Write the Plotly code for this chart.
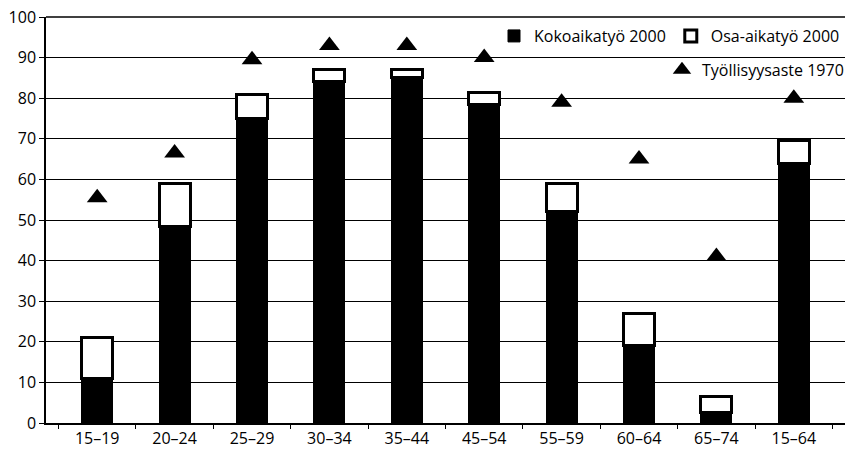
import plotly.graph_objects as go

categories = ["15–19", "20–24", "25–29", "30–34", "35–44", "45–54", "55–59", "60–64", "65–74", "15–64"]
kokoaika_2000 = [11, 48.5, 75, 84, 85, 78.5, 52, 19, 2.5, 64]
osa_aika_2000 = [10, 10.5, 6, 3, 2, 3, 7, 8, 4, 5.5]
tyollisyys_1970 = [55.5, 66.5, 89.5, 93, 93, 90, 79, 65, 41, 80]

FONT = "Open Sans"

fig = go.Figure()
fig.add_trace(go.Bar(
    x=categories, y=kokoaika_2000, name="Kokoaikatyö 2000",
    marker=dict(color="black", line=dict(color="black", width=1)),
    width=0.4, legend="legend",
))
fig.add_trace(go.Bar(
    x=categories, y=osa_aika_2000, name="Osa-aikatyö 2000",
    marker=dict(color="white", line=dict(color="black", width=3)),
    width=0.4, legend="legend",
))
fig.add_trace(go.Scatter(
    x=categories, y=tyollisyys_1970, name="Työllisyysaste 1970",
    mode="markers",
    marker=dict(symbol="triangle-up", size=18, color="black"),
    legend="legend2",
))

fig.update_layout(
    barmode="stack",
    width=849, height=455,
    margin=dict(l=46, r=0, t=17, b=32),
    paper_bgcolor="white", plot_bgcolor="white",
    font=dict(family=FONT, size=16, color="black"),
    legend=dict(orientation="h", x=1.0, xanchor="right", y=0.995, yanchor="top",
                bgcolor="rgba(0,0,0,0)", font=dict(size=16), traceorder="normal",
                itemwidth=30),
    legend2=dict(orientation="h", x=1.005, xanchor="right", y=0.912, yanchor="top",
                 bgcolor="rgba(0,0,0,0)", font=dict(size=16), itemwidth=30),
    xaxis=dict(
        type="category", showline=True, linecolor="black", linewidth=1.5,
        ticks="outside", tickson="boundaries", ticklen=4, tickcolor="black",
        showgrid=False, tickfont=dict(size=16),
    ),
    yaxis=dict(
        range=[0, 100], dtick=10, showline=True, linecolor="black", linewidth=1.5,
        ticks="outside", ticklen=5, tickcolor="black",
        showgrid=True, gridcolor="black", gridwidth=1, zeroline=False,
        tickfont=dict(size=16),
    ),
    bargap=0.6,
    shapes=[dict(type="line", xref="paper", yref="paper", x0=0, x1=1, y0=1, y1=1,
                 line=dict(color="black", width=1.5), layer="below")],
)

fig.write_html("out.html", config={"displayModeBar": False},
               post_script="document.body.style.margin='0px';")
